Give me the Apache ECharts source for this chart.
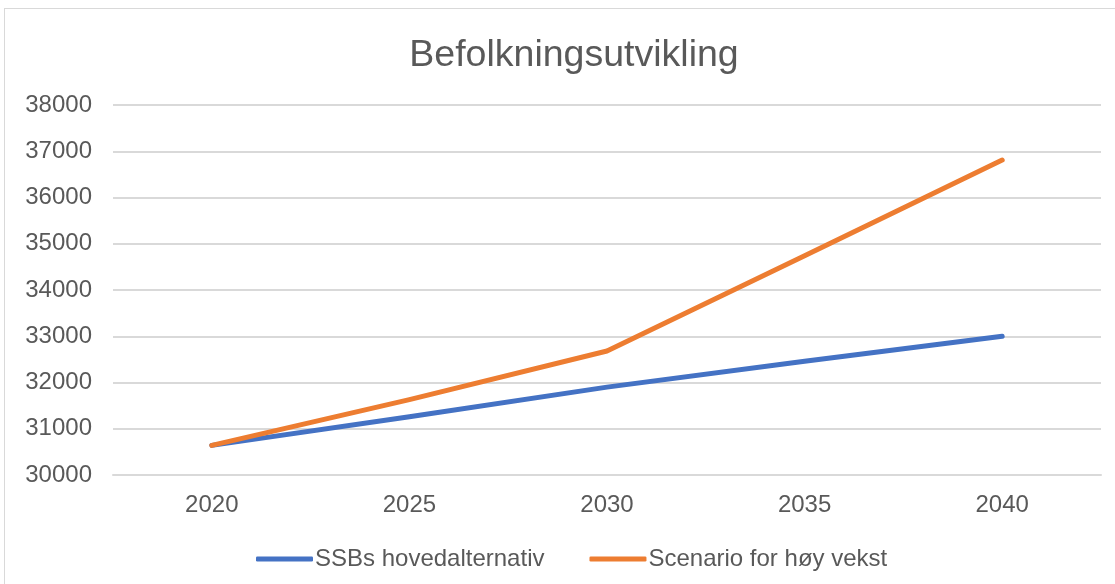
<!DOCTYPE html>
<html>
<head>
<meta charset="utf-8">
<script src="https://cdn.jsdelivr.net/npm/echarts@6/dist/echarts.min.js"></script>
<style>
  html, body { margin: 0; padding: 0; background: #ffffff; }
  #wrap { position: relative; width: 1115px; height: 584px; overflow: hidden; }
  #frame { position: absolute; left: 4px; top: 8px; width: 1120px; height: 600px; border: 1px solid #d9d9d9; box-sizing: border-box; }
  #chart { position: absolute; left: 0; top: 0; width: 1115px; height: 584px; }
</style>
</head>
<body>
<div id="wrap">
  <div id="frame"></div>
  <div id="chart"></div>
</div>
<script>
// data
const years = ['2020', '2025', '2030', '2035', '2040']
const ssbMain = [30640, 31260, 31900, 32460, 33000]
const highGrowth = [30640, 31630, 32680, 34740, 36810]
const seriesNames = ['SSBs hovedalternativ', 'Scenario for høy vekst']

const textColor = '#595959'
const font = '"Liberation Sans", Arial, sans-serif'

const chart = echarts.init(document.getElementById('chart'))
chart.setOption({
  animation: false,
  title: {
    text: 'Befolkningsutvikling',
    left: 569,
    textAlign: 'center',
    top: 32,
    textStyle: { color: textColor, fontSize: 37.5, fontWeight: 'normal', fontFamily: font }
  },
  grid: { left: 113, right: 14, top: 105, bottom: 109, containLabel: false },
  legend: {
    top: 542,
    left: 251,
    icon: 'roundRect',
    itemWidth: 57,
    itemHeight: 5,
    itemGap: 45,
    textStyle: { color: textColor, fontSize: 24, fontFamily: font, padding: [0, 0, 0, -3] },
    data: seriesNames
  },
  xAxis: {
    type: 'category',
    data: years,
    boundaryGap: true,
    axisLine: { show: true, lineStyle: { color: '#d9d9d9', width: 2 } },
    axisTick: { show: false },
    axisLabel: { color: textColor, fontSize: 24, fontFamily: font, margin: 18 }
  },
  yAxis: {
    type: 'value',
    min: 30000,
    max: 38000,
    interval: 1000,
    axisLine: { show: false },
    axisTick: { show: false },
    splitLine: { lineStyle: { color: '#d9d9d9', width: 2 } },
    axisLabel: {
      color: textColor, fontSize: 24, fontFamily: font, margin: 21,
      formatter: (v) => String(v)
    }
  },
  series: [
    {
      name: seriesNames[0],
      type: 'line',
      data: ssbMain,
      symbol: 'none',
      itemStyle: { color: '#4472C4' },
      lineStyle: { color: '#4472C4', width: 5, cap: 'round', join: 'round' }
    },
    {
      name: seriesNames[1],
      type: 'line',
      data: highGrowth,
      symbol: 'none',
      itemStyle: { color: '#ED7D31' },
      lineStyle: { color: '#ED7D31', width: 5, cap: 'round', join: 'round' }
    }
  ]
})
</script>
</body>
</html>
